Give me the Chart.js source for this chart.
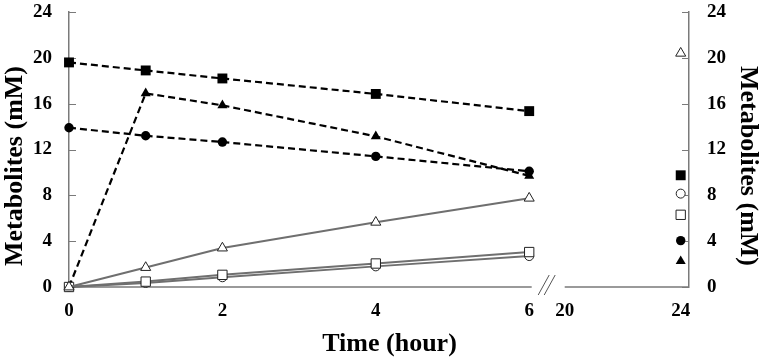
<!DOCTYPE html>
<html>
<head>
<meta charset="utf-8">
<script src="https://cdn.jsdelivr.net/npm/chart.js@4.4.1/dist/chart.umd.min.js"></script>
<style>
  html, body { margin: 0; padding: 0; background: #fff; }
  #wrap { width: 765px; height: 359px; position: relative; }
</style>
</head>
<body>
<div id="wrap"><canvas id="c" width="765" height="359"></canvas></div>
<script>
// ---- data ----
const hours = [0, 1, 2, 4, 6, 24];
const filledSquare   = [19.6, 18.9, 18.2, 16.85, 15.35, 9.75];
const filledTriangle = [0, 16.9, 15.85, 13.15, 9.7, 2.25];
const filledCircle   = [13.9, 13.2, 12.65, 11.4, 10.1, 4.05];
const openTriangle   = [0, 1.7, 3.4, 5.65, 7.75, 20.4];
const openSquare     = [0, 0.47, 1.06, 2.05, 3.05, 6.3];
const openCircle     = [0, 0.35, 0.85, 1.8, 2.7, 8.15];

const xTickHours  = [0, 2, 4, 6, 20, 24];
const xTickLabels = ['0', '2', '4', '6', '20', '24'];
const yTicks = [0, 4, 8, 12, 16, 20, 24];

const yTitle = 'Metabolites (mM)';
const xTitle = 'Time (hour)';

// broken time axis: 0-6 h on the left part, 20-24 h on the right part
const LEFT_PER_HOUR = 76.7, BREAK_START = 495.7, RIGHT_PER_HOUR = 29, AXIS_MAX = 620;
function axisPos(h) {
  return h <= 6 ? h * LEFT_PER_HOUR : BREAK_START + (h - 20) * RIGHT_PER_HOUR;
}
function pts(vals) { return hours.map((h, i) => ({ x: axisPos(h), y: vals[i] })); }

const GRAY = '#6f6f6f';
const AXIS = '#7a7a7a';
const hideLast = { borderColor: ctx => ctx.p1DataIndex === hours.length - 1 ? 'rgba(0,0,0,0)' : undefined };

function dashed(vals, style, r) {
  return {
    data: pts(vals), borderColor: '#000', borderWidth: 2.2, borderDash: [7, 4],
    pointStyle: style, pointRadius: r, pointBackgroundColor: '#000', pointBorderColor: '#000',
    pointBorderWidth: 0, segment: hideLast, tension: 0, clip: false
  };
}
function solid(vals, style, r) {
  return {
    data: pts(vals), borderColor: GRAY, borderWidth: 2,
    pointStyle: style, pointRadius: r, pointBackgroundColor: '#fff', pointBorderColor: '#222',
    pointBorderWidth: 1, segment: hideLast, tension: 0, clip: false
  };
}

const FONT = 'Liberation Serif';

const decor = {
  id: 'decor',
  beforeDatasetsDraw(chart) {
    const ctx = chart.ctx;
    const x = chart.scales.x, y = chart.scales.y;
    const ca = chart.chartArea;
    ctx.save();
    ctx.strokeStyle = AXIS;
    ctx.lineWidth = 1.5;
    // x axis line with a break
    const yb = ca.bottom;
    ctx.beginPath();
    ctx.moveTo(x.getPixelForValue(0), yb);
    ctx.lineTo(x.getPixelForValue(462.7), yb);
    ctx.moveTo(x.getPixelForValue(BREAK_START), yb);
    ctx.lineTo(x.getPixelForValue(AXIS_MAX), yb);
    ctx.stroke();
    // break marks
    const mid = (x.getPixelForValue(462.7) + x.getPixelForValue(BREAK_START)) / 2;
    ctx.lineWidth = 1;
    ctx.strokeStyle = '#555';
    ctx.beginPath();
    ctx.moveTo(mid - 10, yb + 8); ctx.lineTo(mid + 1, yb - 12);
    ctx.moveTo(mid - 4, yb + 8); ctx.lineTo(mid + 7, yb - 12);
    ctx.stroke();
    // inward tick marks on both y axes
    ctx.strokeStyle = AXIS;
    ctx.lineWidth = 1.2;
    ctx.beginPath();
    yTicks.forEach(v => {
      const py = Math.round(y.getPixelForValue(v)) + 0.5;
      ctx.moveTo(ca.left, py); ctx.lineTo(ca.left + 7, py);
      ctx.moveTo(ca.right - 7, py); ctx.lineTo(ca.right, py);
    });
    ctx.stroke();
    // axis titles
    ctx.fillStyle = '#000';
    ctx.textAlign = 'center';
    ctx.textBaseline = 'middle';
    ctx.font = 'bold 26px "' + FONT + '"';
    ctx.fillText(xTitle, 389.5, 344);
    ctx.save();
    ctx.translate(15, 166);
    ctx.rotate(-Math.PI / 2);
    ctx.fillText(yTitle, 0, 0);
    ctx.restore();
    ctx.save();
    ctx.translate(748, 166);
    ctx.rotate(Math.PI / 2);
    ctx.fillText(yTitle, 0, 0);
    ctx.restore();
    ctx.restore();
  }
};

function fixY(w) {
  return s => { s.width = w; s.paddingTop = 0; s.paddingBottom = 0; };
}

new Chart(document.getElementById('c'), {
  type: 'line',
  data: {
    datasets: [
      solid(openTriangle, 'triangle', 5.8),
      solid(openSquare, 'rect', 6.6),
      solid(openCircle, 'circle', 4.5),
      dashed(filledSquare, 'rect', 7),
      dashed(filledTriangle, 'triangle', 5.8),
      dashed(filledCircle, 'circle', 4.7)
    ]
  },
  options: {
    responsive: false,
    animation: false,
    events: [],
    layout: { padding: { top: 12, left: 0, right: 0, bottom: 0 } },
    plugins: { legend: { display: false }, tooltip: { enabled: false } },
    scales: {
      x: {
        type: 'linear', min: 0, max: AXIS_MAX,
        afterBuildTicks: s => { s.ticks = xTickHours.map(h => ({ value: axisPos(h) })); },
        afterFit: s => { s.height = 72; s.paddingLeft = 0; s.paddingRight = 0; },
        grid: { display: false, drawTicks: false },
        border: { display: false },
        ticks: {
          padding: 13, color: '#000', maxRotation: 0, autoSkip: false,
          font: { family: FONT, size: 19, weight: 'bold' },
          callback: (v, i) => xTickLabels[i]
        },
        title: { display: false, text: xTitle }
      },
      y: {
        position: 'left', min: 0, max: 24,
        afterBuildTicks: s => { s.ticks = yTicks.map(v => ({ value: v })); },
        afterFit: fixY(69),
        grid: { display: false, drawTicks: false },
        border: { display: true, color: AXIS, width: 1.5 },
        ticks: { padding: 17, color: '#000', font: { family: FONT, size: 19, weight: 'bold' } },
        title: { display: false, text: yTitle }
      },
      y2: {
        position: 'right', min: 0, max: 24,
        afterBuildTicks: s => { s.ticks = yTicks.map(v => ({ value: v })); },
        afterFit: fixY(76),
        grid: { display: false, drawTicks: false },
        border: { display: true, color: AXIS, width: 1.5 },
        ticks: { padding: 18, color: '#000', font: { family: FONT, size: 19, weight: 'bold' } },
        title: { display: false, text: yTitle }
      }
    }
  },
  plugins: [decor]
});
</script>
</body>
</html>
